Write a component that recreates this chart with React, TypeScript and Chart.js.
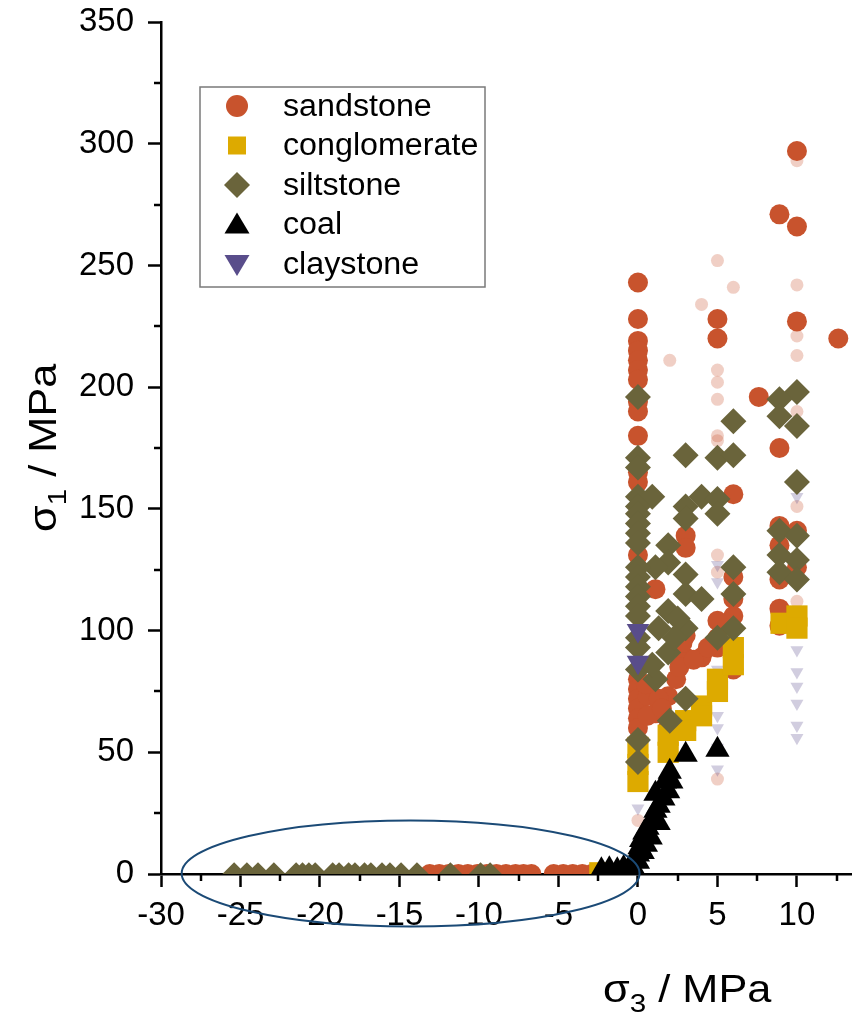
import React, { useEffect, useRef } from "react";
import { Chart, registerables } from "chart.js";

Chart.register(...registerables);

const FONT = "'Liberation Sans', Arial, Helvetica, sans-serif";

// ---- axes ----
const X_MIN = -30;
const X_MAX = 13.4;
const X_STEP = 5;
const Y_MIN = 0;
const Y_MAX = 350;
const Y_STEP = 50;
const X_MINOR = [-27.5, -22.5, -17.5, -12.5, -7.5, -2.5, 2.5, 7.5, 12.5];
const Y_MINOR = [25, 75, 125, 175, 225, 275, 325];

const X_TITLE = ["σ", "3", " / MPa"];
const Y_TITLE = ["σ", "1", " / MPa"];

// ---- series labels ----
const LABELS = ["sandstone", "conglomerate", "siltstone", "coal", "claystone"];

// ---- sandstone ----
const sandstoneX = [
  10, 8.9, 10, 0, 0, 0, 0, 0, 0, 0, 0, 0, 0, 0, 0, 5, 5, 10, 12.6, 7.6, 8.9, 6,
  0, 3, 3, 1.1, 3, 4, 5, 6, 6, 6, 6, 5, 1.9, 3, 1.1, 8.9, 10, 8.9, 8.9, 8.9, 10,
  8.9, 0, 0, 0, 0, 0, 0, 0.6, 0.6, 1.3, 1.9, 2.4, 2.6, 3.5, 4.4, 5, 2.8, 0.5, 1.5,
  -18.4, -17.3, -16.5, -15.4, -14.6, -13.8, -13.1, -12.5, -11.9, -11.3, -10.7,
  -10.1, -9.5, -8.9, -8.3, -7.7, -7.2, -6.7, -5.3, -4.7, -4.1, -3.5, -2.9, -2.5,
];
const sandstoneY = [
  297, 271, 266, 243, 228, 219, 215, 211, 207, 203, 194, 190, 180, 165, 161, 228,
  220, 227, 220, 196, 175, 156, 131, 139, 134, 117, 98, 89, 93, 122, 113, 106, 84,
  104, 73, 89, 66, 143, 141, 135, 121, 109, 126, 102, 80, 76, 72, 68, 64, 60, 73,
  65, 72, 60, 80, 85, 88, 93, 97, 95, 78, 68,
  -2.5, -2.5, -2.5, -2.5, -2.5, -2.5, 0, 0, 0, 0, 0, 0, 0, 0, 0, 0, 0, 0, 0, 0, 0,
  0, 0, 0,
];

// ---- conglomerate ----
const conglomerateX = [0, 0, 0, 1.9, 1.9, 3, 3, 4, 4, 5, 5, 6, 6, 9, 10, 10, -2.4];
const conglomerateY = [52, 45, 38, 57, 50, 63, 59, 69, 65, 80, 75, 93, 86, 103, 106, 101, 0.5];

// ---- siltstone ----
const siltstoneX = [
  0, 10, 8.9, 8.9, 10, 6, 3, 5, 6, 0, 0, 10, 0, 0.9, 3, 4, 5, 0, 5, 0, 0, 0, 0, 3,
  1.9, 1.9, 1.1, 3, 3, 4, 1.9, 1.9, 3, 1.1, 3, 2, 0, 0, 6, 6, 5, 6, 1.3, 8.9, 10,
  8.9, 10, 8.9, 10, 0, 0, 0, 0, 0, 0, 0, 0, 0, 0.9, 2.5, 2.3,
  -25.4, -24.6, -23.9, -22.9, -21.5, -21.1, -20.7, -20.3, -19.2, -18.8, -18.2,
  -17.8, -17.2, -16.8, -16.1, -15.6, -14.9, -13.9, -11.8, -9.9, -9.3,
];
const siltstoneY = [
  196, 198, 195, 188, 184, 186, 172, 171, 172, 171, 167, 161, 155, 155, 151, 155,
  154, 151, 148, 148, 144, 140, 136, 146, 135, 128, 126, 123, 115, 113, 108, 91,
  101, 80, 72, 63, 55, 46, 126, 115, 97, 101, 101, 141, 139, 131, 129, 124, 121,
  126, 122, 118, 114, 110, 106, 97, 93, 84, 86, 105, 97,
  -0.5, -0.5, -0.5, -0.5, -0.5, -0.5, -0.5, -0.5, -0.5, -0.5, -0.5, -0.5, -0.5,
  -0.5, -0.5, -0.5, -0.5, -0.5, -0.5, -0.5, -0.5,
];

// ---- coal ----
const coalX = [
  -2.3, -1.8, -1.3, -0.9, -0.5, -0.2, 0, 0, 0.1, 0.2, 0.4, 0.6, 0.9, 1.1, 1.3, 1.6,
  1.1, 1.9, 1.7, 2.1, 2, 3, 5, 0.5, 0.8, 1.3, 0.3,
];
const coalY = [
  1.5, 2, 1.5, 2.5, 3, 1.5, 5, 8, 11, 14, 17, 19, 22, 26, 28, 31, 33, 34, 38, 38,
  42, 49, 51, 12, 15, 21, 9,
];

// ---- claystone ----
const claystoneX = [0, 0];
const claystoneY = [100, 87];

// ---- faint (secondary) points ----
const sandstoneFaintX = [5, 6, 4, 2, 10, 10, 10, 10, 5, 5, 5, 10, 5, 5, 10, 5, 5, 10, 5, 0];
const sandstoneFaintY = [252, 241, 234, 211, 293, 242, 221, 213, 207, 202, 195, 190, 180, 178, 151, 131, 124, 112, 39, 22];
const claystoneFaintX = [10, 10, 10, 10, 10, 10, 10, 5, 5, 5, 5, 5, 5, 5, 0, 4.9];
const claystoneFaintY = [155, 92, 83, 77, 70, 61, 56, 127, 120, 84, 65, 60, 52, 43, 27, 147];

// ---- ellipse annotation (data units) ----
const ELLIPSE = { cx: -14.3, cy: 0.2, rx: 14.4, ry: 21.8 };

const COLORS = {
  sandstone: "#C8532D",
  conglomerate: "#DDAA00",
  siltstone: "#6A643B",
  coal: "#000000",
  claystone: "#594D8B",
  sandFaint: "rgba(200,83,45,0.28)",
  clayFaint: "rgba(89,77,139,0.28)",
  ellipse: "#1B4A76",
};

function pts(xs: number[], ys: number[]) {
  return xs.map((x, i) => ({ x, y: ys[i] }));
}

function drawMarker(ctx: CanvasRenderingContext2D, style: string, x: number, y: number, color: string) {
  ctx.fillStyle = color;
  ctx.beginPath();
  if (style === "circle") {
    ctx.arc(x, y, 11, 0, Math.PI * 2);
  } else if (style === "rect") {
    ctx.rect(x - 9, y - 9, 18, 18);
  } else if (style === "rectRot") {
    ctx.moveTo(x - 13, y);
    ctx.lineTo(x, y - 13);
    ctx.lineTo(x + 13, y);
    ctx.lineTo(x, y + 13);
  } else if (style === "triUp") {
    ctx.moveTo(x, y - 12);
    ctx.lineTo(x + 12.5, y + 9);
    ctx.lineTo(x - 12.5, y + 9);
  } else {
    ctx.moveTo(x, y + 12);
    ctx.lineTo(x + 12.5, y - 9);
    ctx.lineTo(x - 12.5, y - 9);
  }
  ctx.closePath();
  ctx.fill();
}

function drawSubscripted(
  ctx: CanvasRenderingContext2D,
  parts: string[],
  size: number,
  subSize: number,
  subDrop: number,
  stretch: number
) {
  ctx.save();
  ctx.scale(stretch, 1);
  ctx.textBaseline = "alphabetic";
  ctx.textAlign = "left";
  ctx.fillStyle = "#000";
  let x = 0;
  ctx.font = `${size}px ${FONT}`;
  ctx.fillText(parts[0], x, 0);
  x += ctx.measureText(parts[0]).width;
  ctx.font = `${subSize}px ${FONT}`;
  ctx.fillText(parts[1], x, subDrop);
  x += ctx.measureText(parts[1]).width;
  ctx.font = `${size}px ${FONT}`;
  ctx.fillText(parts[2], x, 0);
  ctx.restore();
}

const overlayPlugin = {
  id: "overlay",
  afterDraw(chart: any) {
    const ctx: CanvasRenderingContext2D = chart.ctx;
    const xs = chart.scales.x;
    const ys = chart.scales.y;
    const area = chart.chartArea;

    // minor ticks
    ctx.save();
    ctx.strokeStyle = "#000";
    ctx.lineWidth = 2.5;
    X_MINOR.forEach((v) => {
      const px = Math.round(xs.getPixelForValue(v));
      ctx.beginPath();
      ctx.moveTo(px, area.bottom);
      ctx.lineTo(px, area.bottom + 7);
      ctx.stroke();
    });
    Y_MINOR.forEach((v) => {
      const py = Math.round(ys.getPixelForValue(v));
      ctx.beginPath();
      ctx.moveTo(area.left, py);
      ctx.lineTo(area.left - 7, py);
      ctx.stroke();
    });
    ctx.restore();

    // ellipse
    const cx = xs.getPixelForValue(ELLIPSE.cx);
    const cy = ys.getPixelForValue(ELLIPSE.cy);
    const rx = xs.getPixelForValue(ELLIPSE.cx + ELLIPSE.rx) - cx;
    const ry = cy - ys.getPixelForValue(ELLIPSE.cy + ELLIPSE.ry);
    ctx.save();
    ctx.strokeStyle = COLORS.ellipse;
    ctx.lineWidth = 2;
    ctx.beginPath();
    ctx.ellipse(cx, cy, rx, ry, 0, 0, Math.PI * 2);
    ctx.stroke();
    ctx.restore();

    // legend
    const lx = 200, ly = 87, lw = 285, lh = 200;
    ctx.save();
    ctx.fillStyle = "#fff";
    ctx.fillRect(lx, ly, lw, lh);
    ctx.strokeStyle = "#7a7a7a";
    ctx.lineWidth = 1.5;
    ctx.strokeRect(lx, ly, lw, lh);
    const styles = ["circle", "rect", "rectRot", "triUp", "triDown"];
    const cols = [COLORS.sandstone, COLORS.conglomerate, COLORS.siltstone, COLORS.coal, COLORS.claystone];
    LABELS.forEach((label, i) => {
      const yy = 106 + i * 39.5;
      drawMarker(ctx, styles[i], 237, yy, cols[i]);
      ctx.save();
      ctx.translate(283, yy);
      ctx.scale(1.04, 1);
      ctx.font = `31px ${FONT}`;
      ctx.fillStyle = "#000";
      ctx.textBaseline = "middle";
      ctx.fillText(label, 0, 1);
      ctx.restore();
    });
    ctx.restore();

    // axis titles
    ctx.save();
    ctx.translate(603, 1002);
    drawSubscripted(ctx, X_TITLE, 38, 26, 10, 1.14);
    ctx.restore();

    ctx.save();
    ctx.translate(56, 532);
    ctx.rotate(-Math.PI / 2);
    drawSubscripted(ctx, Y_TITLE, 38, 26, 10, 1.14);
    ctx.restore();
  },
};

export default function App() {
  const ref = useRef<HTMLCanvasElement>(null);

  useEffect(() => {
    document.body.style.margin = "0";
    document.body.style.overflow = "hidden";
    const canvas = ref.current;
    if (!canvas) return;

    const tickFont = { family: FONT, size: 33 };
    const common = { borderWidth: 0, clip: 0 };

    const chart = new Chart(canvas, {
      type: "scatter",
      data: {
        datasets: [
          {
            ...common,
            label: LABELS[0],
            data: pts(sandstoneX, sandstoneY),
            backgroundColor: COLORS.sandstone,
            pointStyle: "circle",
            pointRadius: 10,
            order: 5,
          },
          {
            ...common,
            label: LABELS[1],
            data: pts(conglomerateX, conglomerateY),
            backgroundColor: COLORS.conglomerate,
            pointStyle: "rect",
            pointRadius: 15,
            order: 4,
          },
          {
            ...common,
            label: LABELS[2],
            data: pts(siltstoneX, siltstoneY),
            backgroundColor: COLORS.siltstone,
            pointStyle: "rectRot",
            pointRadius: 13,
            order: 3,
          },
          {
            ...common,
            label: LABELS[3],
            data: pts(coalX, coalY),
            backgroundColor: COLORS.coal,
            pointStyle: "triangle",
            pointRadius: 14,
            order: 2,
          },
          {
            ...common,
            label: LABELS[4],
            data: pts(claystoneX, claystoneY),
            backgroundColor: COLORS.claystone,
            pointStyle: "triangle",
            rotation: 180,
            pointRadius: 13,
            order: 1,
          },
          {
            ...common,
            label: "sandstone (other)",
            data: pts(sandstoneFaintX, sandstoneFaintY),
            backgroundColor: COLORS.sandFaint,
            pointStyle: "circle",
            pointRadius: 6.5,
            order: 7,
          },
          {
            ...common,
            label: "claystone (other)",
            data: pts(claystoneFaintX, claystoneFaintY),
            backgroundColor: COLORS.clayFaint,
            pointStyle: "triangle",
            rotation: 180,
            pointRadius: 7.5,
            order: 6,
          },
        ] as any,
      },
      options: {
        responsive: false,
        animation: false,
        devicePixelRatio: 1,
        layout: { padding: { top: 22, left: 0, right: 0, bottom: 0 } },
        plugins: {
          legend: { display: false },
          tooltip: { enabled: false },
        },
        scales: {
          x: {
            type: "linear",
            min: X_MIN,
            max: X_MAX,
            afterFit: (s: any) => {
              s.height = 142;
              s.paddingLeft = 0;
              s.paddingRight = 0;
            },
            ticks: {
              stepSize: X_STEP,
              includeBounds: false,
              autoSkip: false,
              maxRotation: 0,
              minRotation: 0,
              color: "#000",
              font: tickFont,
              padding: 9,
            },
            grid: {
              drawOnChartArea: false,
              drawTicks: true,
              tickLength: 13,
              tickWidth: 2.5,
              tickColor: "#000",
            },
            border: { display: true, color: "#000", width: 2.5 },
            title: { display: false },
          },
          y: {
            type: "linear",
            min: Y_MIN,
            max: Y_MAX,
            afterFit: (s: any) => {
              s.width = 161;
              s.paddingTop = 0;
              s.paddingBottom = 0;
            },
            ticks: {
              stepSize: Y_STEP,
              includeBounds: false,
              color: "#000",
              font: tickFont,
              padding: 14,
            },
            grid: {
              drawOnChartArea: false,
              drawTicks: true,
              tickLength: 13,
              tickWidth: 2.5,
              tickColor: "#000",
            },
            border: { display: true, color: "#000", width: 2.5 },
            title: { display: false },
          },
        },
      },
      plugins: [overlayPlugin],
    });

    return () => chart.destroy();
  }, []);

  return <canvas ref={ref} width={866} height={1016} style={{ display: "block" }} />;
}
